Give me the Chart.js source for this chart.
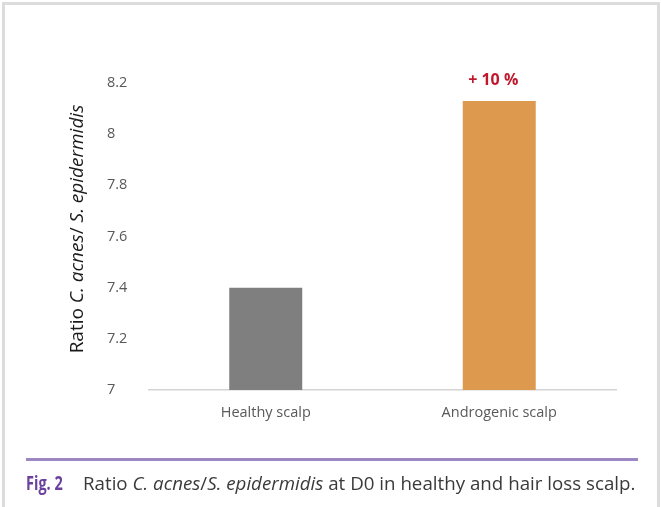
<!DOCTYPE html>
<html>
<head>
<meta charset="utf-8">
<script src="https://cdn.jsdelivr.net/npm/chart.js@4.4.1/dist/chart.umd.min.js"></script>
<style>
  body { margin: 0; background: #fff; }
  #wrap { position: relative; width: 661px; height: 507px; overflow: hidden; }
  #frame { position: absolute; left: 2px; top: 2px; width: 658px; height: 520px; border: 3px solid #dcdcdc; box-sizing: border-box; }
  canvas { position: absolute; left: 0; top: 0; }
  #rule { position: absolute; left: 26px; top: 458px; width: 612px; height: 2.5px; background: #9c87c2; }
  .cap { position: absolute; top: 470px; font-family: "Open Sans", sans-serif; font-size: 19px; white-space: nowrap; transform-origin: 0 50%; }
  #fig { left: 26px; top: 469px; font-size: 20px; color: #6a3f9e; font-weight: bold; }
  #caption { left: 83px; color: #3a3a3a; }
</style>
</head>
<body>
<div id="wrap">
  <canvas id="myChart" width="661" height="507"></canvas>
  <div id="frame"></div>
  <div id="rule"></div>
  <div id="fig" class="cap">Fig. 2</div>
  <div id="caption" class="cap">Ratio <i>C. acnes</i>/<i>S. epidermidis</i> at D0 in healthy and hair loss scalp.</div>
</div>
<script>
var categories = ['Healthy scalp', 'Androgenic scalp']
var ratios = [7.4, 8.13]
var barColors = ['#7f7f7f', '#dd9a4f']
var yTicks = [7, 7.2, 7.4, 7.6, 7.8, 8, 8.2]
var annotations = ['', '+ 10 %']

// squeeze the caption pieces to the reference widths
var fig = document.getElementById('fig')
fig.style.transform = 'scaleX(' + (37 / fig.offsetWidth) + ')'
var cap = document.getElementById('caption')
cap.style.transform = 'scaleX(' + (552 / cap.offsetWidth) + ')'

// y title with italic parts, and the +10 % label over the bar
var extras = {
    id: 'extras',
    afterDraw: function (chart) {
        var c = chart.ctx
        c.save()
        c.translate(78, 229)
        c.rotate(-Math.PI / 2)
        var parts = [['Ratio ', ''], ['C. acnes', 'italic '], ['/ ', ''], ['S. epidermidis', 'italic ']]
        var total = 0
        parts.forEach(function (p) {
            c.font = p[1] + '19px "Open Sans", sans-serif'
            total += c.measureText(p[0]).width
        })
        var x = -total / 2
        c.fillStyle = '#1a1a1a'
        c.textBaseline = 'middle'
        parts.forEach(function (p) {
            c.font = p[1] + '19px "Open Sans", sans-serif'
            c.fillText(p[0], x, 0)
            x += c.measureText(p[0]).width
        })
        c.restore()

        var meta = chart.getDatasetMeta(0)
        c.save()
        c.font = 'bold 16px "Open Sans", sans-serif'
        c.fillStyle = '#c0182c'
        c.textAlign = 'center'
        c.textBaseline = 'bottom'
        meta.data.forEach(function (bar, i) {
            if (annotations[i]) c.fillText(annotations[i], bar.x - 6, bar.y - 12)
        })
        c.restore()
    }
}

var ctx = document.getElementById('myChart').getContext('2d')
var myChart = new Chart(ctx, {
    type: 'bar',
    data: {
        labels: categories,
        datasets: [{
            data: ratios,
            backgroundColor: barColors,
            borderWidth: 0,
            barPercentage: 0.3126,
            categoryPercentage: 1
        }]
    },
    options: {
        responsive: false,
        animation: false,
        layout: { padding: { left: 107, top: 83, right: 45, bottom: 77 } },
        plugins: {
            legend: { display: false },
            tooltip: { enabled: false }
        },
        scales: {
            x: {
                grid: { display: false, drawTicks: false },
                border: { color: '#d4d4d4', width: 1.5 },
                ticks: { color: '#595959', font: { family: 'Open Sans', size: 14.5 }, padding: 14 },
                afterFit: function (s) { s.height = 40 }
            },
            y: {
                min: 7,
                max: 8.2,
                grid: { display: false, drawTicks: false },
                border: { display: false },
                afterBuildTicks: function (s) { s.ticks = yTicks.map(function (v) { return { value: v } }) },
                ticks: {
                    crossAlign: 'far',
                    color: '#595959',
                    font: { family: 'Open Sans', size: 14.5 },
                    callback: function (v) { return String(Math.round(v * 10) / 10) }
                },
                afterFit: function (s) { s.width = 42 }
            }
        }
    },
    plugins: [extras]
})
</script>
</body>
</html>
